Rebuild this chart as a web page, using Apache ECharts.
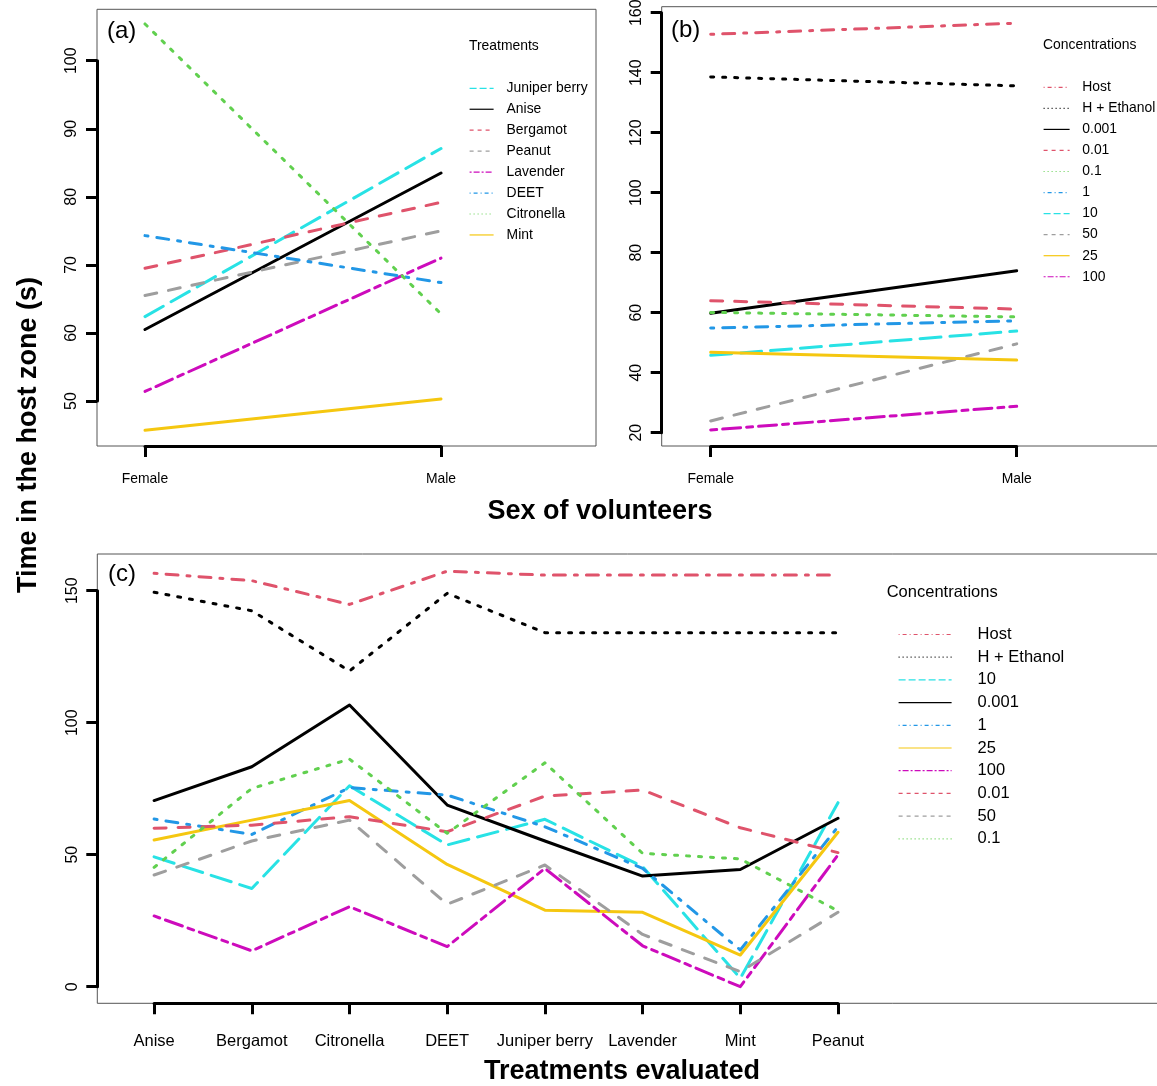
<!DOCTYPE html>
<html><head><meta charset="utf-8">
<script src="https://cdn.jsdelivr.net/npm/echarts@6/dist/echarts.min.js"></script>
<style>html,body{margin:0;padding:0;background:#fff}#c{width:1157px;height:1086px}</style>
</head><body><div id="c"></div>
<script>
// ---------- data ----------
const sexes = ['Female', 'Male'];
const treatmentLegend = ['Juniper berry', 'Anise', 'Bergamot', 'Peanut', 'Lavender', 'DEET', 'Citronella', 'Mint'];
const juniperBySex = [62.4, 87.1];
const aniseBySex = [60.5, 83.5];
const bergamotBySex = [69.5, 79.2];
const peanutBySex = [65.5, 75.0];
const lavenderBySex = [51.4, 71.0];
const deetBySex = [74.3, 67.4];
const citronellaBySex = [105.4, 62.8];
const mintBySex = [45.7, 50.3];

const concLegendB = ['Host', 'H + Ethanol', '0.001', '0.01', '0.1', '1', '10', '50', '25', '100'];
const hostBySex = [152.8, 156.5];
const hEthanolBySex = [138.6, 135.6];
const c0001BySex = [59.8, 74.0];
const c001BySex = [64.0, 61.2];
const c01BySex = [60.1, 58.6];
const c1BySex = [54.9, 57.3];
const c10BySex = [45.8, 53.9];
const c50BySex = [23.9, 49.6];
const c25BySex = [46.8, 44.2];
const c100BySex = [20.9, 28.8];

const treatments = ['Anise', 'Bergamot', 'Citronella', 'DEET', 'Juniper berry', 'Lavender', 'Mint', 'Peanut'];
const concLegendC = ['Host', 'H + Ethanol', '10', '0.001', '1', '25', '100', '0.01', '50', '0.1'];
const hostByTreat = [156.6, 153.8, 144.8, 157.4, 155.9, 155.9, 155.9, 155.9];
const hEthanolByTreat = [149.4, 142.4, 119.6, 149.0, 134.1, 134.1, 134.1, 134.1];
const c10ByTreat = [49.2, 37.2, 76.1, 53.7, 63.4, 45.5, 3.2, 69.7];
const c0001ByTreat = [70.5, 83.3, 106.7, 68.8, 55.2, 41.9, 44.4, 63.8];
const c1ByTreat = [63.5, 57.7, 75.4, 72.6, 60.6, 44.8, 13.9, 60.6];
const c25ByTreat = [55.6, 63.1, 70.5, 46.3, 29.0, 28.2, 12.0, 58.5];
const c100ByTreat = [26.8, 13.6, 30.3, 15.2, 44.8, 15.5, 0.0, 49.9];
const c001ByTreat = [60.0, 61.2, 64.4, 58.7, 72.2, 74.5, 60.2, 50.8];
const c50ByTreat = [42.3, 55.2, 63.1, 31.2, 46.1, 19.8, 5.7, 28.2];
const c01ByTreat = [45.2, 75.1, 86.2, 58.1, 84.8, 50.5, 48.4, 28.7];

const yTicksA = [50, 100, 10];   // min, max, step
const yTicksB = [20, 160, 20];
const yTicksC = [0, 150, 50];

// ---------- styles ----------
const COL = {cyan:'#28E2E5', black:'#000000', pink:'#DF536B', gray:'#9E9E9E', magenta:'#CD0BBC', blue:'#2297E6', green:'#61D04F', yellow:'#F5C710'};
const DASH3 = {solid:'solid', dashed:[12,12], dotted:[3,9], dotdash:[3,9,12,9], longdash:[21,9], twodash:[6,6,18,6]};
const DASH1 = {solid:'solid', dashed:[4,4], dotted:[1,3], dotdash:[1,3,4,3], longdash:[7,3], twodash:[2,2,6,2]};
const STYLE = {
  'Juniper berry':['cyan','longdash'], 'Anise':['black','solid'], 'Bergamot':['pink','dashed'], 'Peanut':['gray','dashed'],
  'Lavender':['magenta','twodash'], 'DEET':['blue','dotdash'], 'Citronella':['green','dotted'], 'Mint':['yellow','solid'],
  'Host':['pink','dotdash'], 'H + Ethanol':['black','dotted'], '0.001':['black','solid'], '0.01':['pink','dashed'],
  '0.1':['green','dotted'], '1':['blue','dotdash'], '10':['cyan','longdash'], '50':['gray','dashed'],
  '25':['yellow','solid'], '100':['magenta','twodash']
};

// font probing: use a narrow face for panels (a)/(b) if available
const probe = f => { const c = document.createElement('canvas').getContext('2d'); c.font = f; return c.measureText('Concentrations Female').width; };
const hasNarrow = Math.abs(probe('20px "Liberation Sans Narrow", monospace') - probe('20px monospace')) > 1;
const NF = hasNarrow ? 'Liberation Sans Narrow' : 'Liberation Sans';
const nf = v => hasNarrow ? v : +(v * 0.84).toFixed(1);
const RF = 'Liberation Sans';

function series(name, values, axisIdx) {
  const [c, lt] = STYLE[name];
  return {type:'line', name, data: values, xAxisIndex: axisIdx, yAxisIndex: axisIdx, symbol:'none', clip:false,
    silent:true, animation:false, z:3,
    lineStyle:{color: COL[c], width:3, type: DASH3[lt], cap:'round', join:'round'}, itemStyle:{color: COL[c]}};
}
function legendItems(names) {
  return names.map(n => ({name:n, lineStyle:{width:1.2, type: DASH1[STYLE[n][1]], cap:'butt'}}));
}

const axLine = {show:true, onZero:false, lineStyle:{color:'#000', width:3}};
const axTick = {show:true, inside:false, length:11, lineStyle:{color:'#000', width:3}};
function xCat(gi, cats, offset, fs, ff, margin) {
  return {gridIndex:gi, type:'category', data:cats, boundaryGap:false, offset, axisLine:axLine, axisTick:axTick,
    splitLine:{show:false}, axisLabel:{interval:0, margin, color:'#000', fontSize:fs, fontFamily:ff}};
}
function yVal(gi, t, offset) {
  return {gridIndex:gi, type:'value', min:t[0], max:t[1], interval:t[2], offset, axisLine:axLine, axisTick:axTick,
    splitLine:{show:false}, axisLabel:{rotate:90, margin:17, color:'#000', fontSize:16, fontFamily:RF}};
}
const hidX = gi => ({gridIndex:gi, type:'value', show:false, min:0, max:1});
const hidY = gi => ({gridIndex:gi, type:'value', show:false, min:0, max:1});
const boxGrid = (l,t,w,h) => ({left:l, top:t, width:w, height:h, show:true, borderColor:'#555', borderWidth:1, backgroundColor:'transparent', containLabel:false, outerBoundsMode:'none'});
const dataGrid = (l,t,w,h) => ({left:l, top:t, width:w, height:h, show:false, containLabel:false, outerBoundsMode:'none'});

const legText = (fs, ff, padL) => ({fontSize:fs, fontFamily:ff, color:'#000', lineHeight:16, padding:[0,0,0,padL]});
const legCommon = {orient:'vertical', padding:0, itemHeight:14, selectedMode:false,
  itemStyle:{color:'rgba(0,0,0,0)', borderColor:'rgba(0,0,0,0)', borderWidth:0, opacity:0}};

const txt = (text, x, y, font, align, rot) => ({type:'text', x, y, rotation: rot || 0, silent:true,
  style:{text, font, fill:'#000', align: align || 'left', verticalAlign:'middle'}});

const option = {
  animation:false,
  backgroundColor:'#fff',
  textStyle:{fontFamily:RF},
  grid:[
    boxGrid(97, 9.3, 499, 436.7),
    dataGrid(145, 60.7, 296, 340.3),
    boxGrid(661.7, 6.7, 540, 439.3),
    dataGrid(710.7, 12.7, 306, 420),
    boxGrid(97.3, 554, 1120, 449.3),
    dataGrid(154.1, 590.7, 683.9, 396)
  ],
  xAxis:[
    hidX(0), xCat(1, sexes, 45, nf(16.5), NF, 33 - nf(16.5)/2),
    hidX(2), xCat(3, sexes, 13.3, nf(16.5), NF, 33 - nf(16.5)/2),
    hidX(4), xCat(5, treatments, 16.6, 16.5, RF, 29.5)
  ],
  yAxis:[
    hidY(0), yVal(1, yTicksA, 48),
    hidY(2), yVal(3, yTicksB, 49),
    hidY(4), yVal(5, yTicksC, 56.8)
  ],
  legend:[
    Object.assign({}, legCommon, {left:469, top:80.3, itemGap:4.95, itemWidth:24, data:legendItems(treatmentLegend), textStyle:legText(nf(16.5), NF, 8)}),
    Object.assign({}, legCommon, {left:1043, top:79.3, itemGap:5.05, itemWidth:26, data:legendItems(concLegendB), textStyle:legText(nf(16.5), NF, 7.7)}),
    Object.assign({}, legCommon, {left:898, top:626, itemGap:5.7, itemWidth:53, data:legendItems(concLegendC), textStyle:legText(16.5, RF, 21)})
  ],
  series:[
    series('Juniper berry', juniperBySex, 1), series('Anise', aniseBySex, 1), series('Bergamot', bergamotBySex, 1),
    series('Peanut', peanutBySex, 1), series('Lavender', lavenderBySex, 1), series('DEET', deetBySex, 1),
    series('Citronella', citronellaBySex, 1), series('Mint', mintBySex, 1),

    series('Host', hostBySex, 3), series('H + Ethanol', hEthanolBySex, 3), series('0.001', c0001BySex, 3),
    series('0.01', c001BySex, 3), series('0.1', c01BySex, 3), series('1', c1BySex, 3), series('10', c10BySex, 3),
    series('50', c50BySex, 3), series('25', c25BySex, 3), series('100', c100BySex, 3),

    series('Host', hostByTreat, 5), series('H + Ethanol', hEthanolByTreat, 5), series('10', c10ByTreat, 5),
    series('0.001', c0001ByTreat, 5), series('1', c1ByTreat, 5), series('25', c25ByTreat, 5),
    series('100', c100ByTreat, 5), series('0.01', c001ByTreat, 5), series('50', c50ByTreat, 5), series('0.1', c01ByTreat, 5)
  ],
  graphic:[
    txt('Time in the host zone (s)', 29, 435, 'bold 27px "Liberation Sans"', 'center', Math.PI/2),
    txt('Sex of volunteers', 600, 512, 'bold 27px "Liberation Sans"', 'center'),
    txt('Treatments evaluated', 622, 1072, 'bold 27px "Liberation Sans"', 'center'),
    txt('(a)', 107, 31, '24px "Liberation Sans"'),
    txt('(b)', 671, 30, '24px "Liberation Sans"'),
    txt('(c)', 108, 574, '24px "Liberation Sans"'),
    txt('Treatments', 469, 46, nf(16.5) + 'px "' + NF + '"'),
    txt('Concentrations', 1043, 45, nf(16.5) + 'px "' + NF + '"'),
    txt('Concentrations', 886.7, 592.7, '16.5px "Liberation Sans"')
  ]
};
const chart = echarts.init(document.getElementById('c'), null, {renderer:'canvas'});
chart.setOption(option);
</script>
</body></html>
